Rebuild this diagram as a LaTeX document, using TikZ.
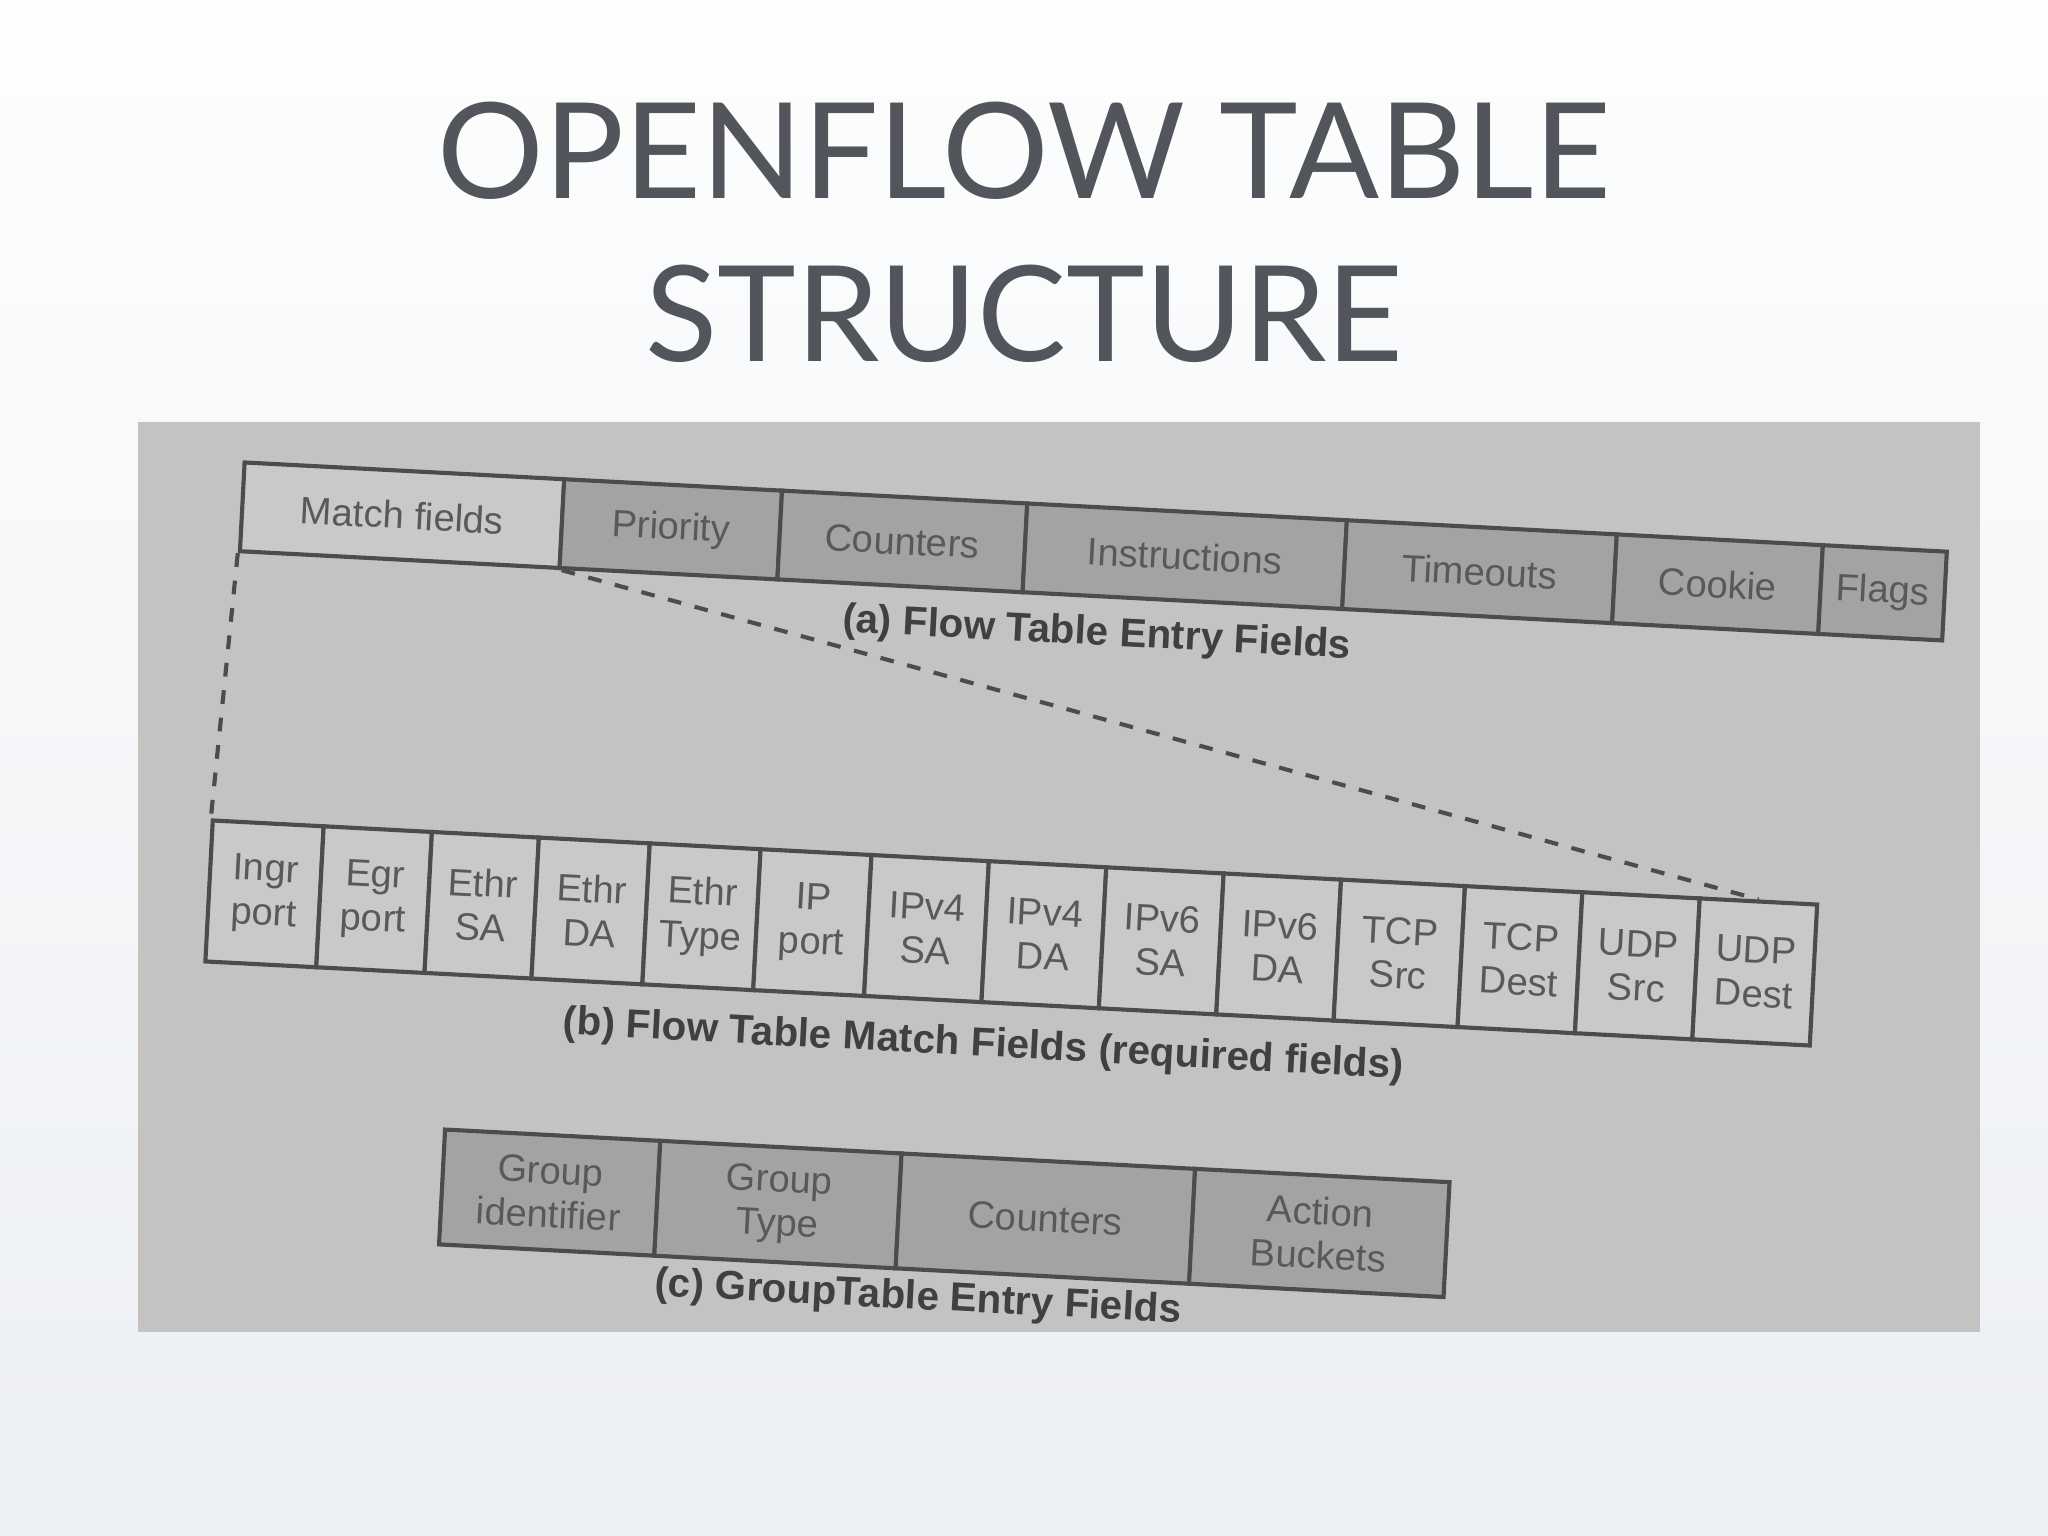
\documentclass[tikz,border=0pt]{standalone}
\usepackage{fontspec}
\setmainfont{Lato}
\newfontfamily\cellfont{Liberation Sans}
\begin{document}
\begin{tikzpicture}[x=0.01cm,y=-0.01cm,
  cellbox/.style={draw=black!70,line width=0.9pt,fill=shadec,text=black!65,font=\cellfont\fontsize{8.3}{9.6}\selectfont,align=center,inner sep=0pt,anchor=north west},
  lightbox/.style={cellbox,fill=lightc},
  capt/.style={font=\cellfont\bfseries\fontsize{8.8}{10}\selectfont,text=black!75},
  dashline/.style={draw=black!70,dashed,line width=0.9pt}]
\definecolor{slidebg}{RGB}{236,239,243}
\definecolor{photobg}{RGB}{197,195,193}
\definecolor{shadec}{RGB}{165,163,162}
\definecolor{lightc}{RGB}{203,201,199}
\definecolor{titlec}{RGB}{82,86,92}
\fill[top color=white!90!slidebg,bottom color=slidebg] (0,0) rectangle (1568,1176);
\useasboundingbox (0,0) rectangle (1568,1176);
\node[text=titlec,font=\fontsize{29}{35}\selectfont,anchor=base] (t1) at (784,152) {OPENFLOW TABLE};
\node[text=titlec,font=\fontsize{29}{35}\selectfont,anchor=base] (t2) at (784,277) {STRUCTURE};
\fill[photobg] (106,323) rectangle (1516,1020);
\begin{scope}[rotate around={-3:(800,670)},transform shape]
% row a
\node[lightbox,minimum width=2.45cm,minimum height=0.68cm] (mf) at (170,385) {Match fields};
\node[cellbox,minimum width=1.67cm,minimum height=0.68cm] (pr) at (415,385) {Priority};
\node[cellbox,minimum width=1.88cm,minimum height=0.68cm] (co) at (582,385) {Counters};
\node[cellbox,minimum width=2.45cm,minimum height=0.68cm] (in) at (770,385) {Instructions};
\node[cellbox,minimum width=2.07cm,minimum height=0.68cm] (ti) at (1015,385) {Timeouts};
\node[cellbox,minimum width=1.58cm,minimum height=0.68cm] (ck) at (1222,385) {Cookie};
\node[cellbox,minimum width=0.95cm,minimum height=0.68cm] (fl) at (1380,385) {Flags};
\node[capt] (ca) at (830,484) {(a) Flow Table Entry Fields};
% row b
\node[lightbox,minimum width=0.85cm,minimum height=1.08cm] (b1) at (160,660) {Ingr\\port};
\node[lightbox,minimum width=0.83cm,minimum height=1.08cm] (b2) at (245,660) {Egr\\port};
\node[lightbox,minimum width=0.82cm,minimum height=1.08cm] (b3) at (328,660) {Ethr\\SA};
\node[lightbox,minimum width=0.85cm,minimum height=1.08cm] (b4) at (410,660) {Ethr\\DA};
\node[lightbox,minimum width=0.85cm,minimum height=1.08cm] (b5) at (495,660) {Ethr\\Type};
\node[lightbox,minimum width=0.85cm,minimum height=1.08cm] (b6) at (580,660) {IP\\port};
\node[lightbox,minimum width=0.90cm,minimum height=1.08cm] (b7) at (665,660) {IPv4\\SA};
\node[lightbox,minimum width=0.90cm,minimum height=1.08cm] (b8) at (755,660) {IPv4\\DA};
\node[lightbox,minimum width=0.90cm,minimum height=1.08cm] (b9) at (845,660) {IPv6\\SA};
\node[lightbox,minimum width=0.90cm,minimum height=1.08cm] (b10) at (935,660) {IPv6\\DA};
\node[lightbox,minimum width=0.95cm,minimum height=1.08cm] (b11) at (1025,660) {TCP\\Src};
\node[lightbox,minimum width=0.90cm,minimum height=1.08cm] (b12) at (1120,660) {TCP\\Dest};
\node[lightbox,minimum width=0.90cm,minimum height=1.08cm] (b13) at (1210,660) {UDP\\Src};
\node[lightbox,minimum width=0.90cm,minimum height=1.08cm] (b14) at (1300,660) {UDP\\Dest};
\node[capt] (cb) at (760,803) {(b) Flow Table Match Fields (required fields)};
% row c
\node[cellbox,minimum width=1.65cm,minimum height=0.88cm] (c1) at (350,887) {Group\\identifier};
\node[cellbox,minimum width=1.85cm,minimum height=0.88cm] (c2) at (515,887) {Group\\Type};
\node[cellbox,minimum width=2.25cm,minimum height=0.88cm] (c3) at (700,887) {Counters};
\node[cellbox,minimum width=1.95cm,minimum height=0.88cm] (c4) at (925,887) {Action\\Buckets};
\node[capt] (cc) at (720,999) {(c) GroupTable Entry Fields};
% dashed connectors
\draw[dashline] (mf.south west) -- (b1.north west);
\draw[dashline] (mf.south east) -- (b14.north);
\end{scope}
\end{tikzpicture}
\end{document}
